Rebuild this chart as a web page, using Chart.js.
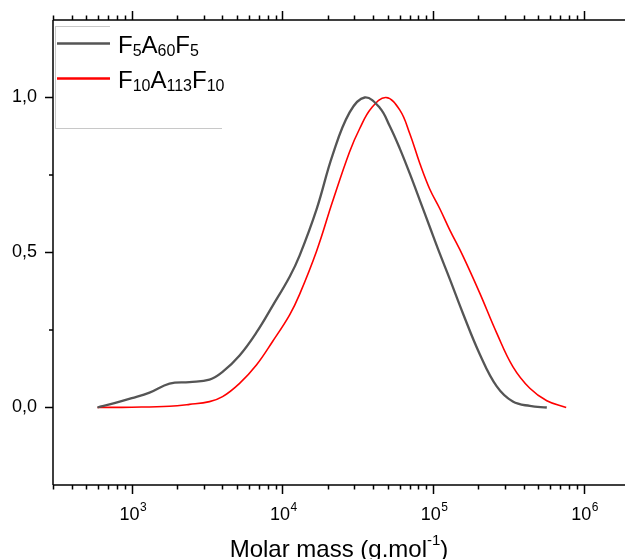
<!DOCTYPE html>
<html>
<head>
<meta charset="utf-8">
<script src="https://cdn.jsdelivr.net/npm/chart.js@4.4.1/dist/chart.umd.min.js"></script>
<style>
  body { margin: 0; background: #fff; }
  canvas { display: block; }
</style>
</head>
<body>
<canvas id="chart" width="625" height="559"></canvas>
<script>
// series 1: F5A60F5 (molar mass g/mol, normalised signal)
const massGray = [592, 767, 1000, 1312, 1780, 2415, 3281, 4006, 5196, 6743, 8606, 11170, 13000, 16870, 21550, 27930, 35160, 44240, 51550, 60070, 70000, 81600, 95000, 110700, 129000, 157500, 204200, 264700, 338500, 438900, 569000];
const valGray = [0, 0.014, 0.03, 0.048, 0.077, 0.082, 0.09, 0.115, 0.168, 0.243, 0.328, 0.422, 0.49, 0.64, 0.815, 0.952, 1.0, 0.967, 0.908, 0.836, 0.755, 0.669, 0.583, 0.497, 0.415, 0.305, 0.172, 0.068, 0.019, 0.005, 0];

// series 2: F10A113F10
const massRed = [592, 1000, 1780, 2415, 3281, 4006, 5196, 6743, 8606, 11170, 13000, 16870, 21550, 27930, 32600, 39000, 48700, 60070, 70000, 81600, 95000, 110700, 129000, 157500, 204200, 264700, 338500, 438900, 569000, 765000];
const valRed = [0, 0.001, 0.004, 0.01, 0.019, 0.035, 0.078, 0.138, 0.213, 0.299, 0.365, 0.505, 0.665, 0.825, 0.9, 0.966, 1.0, 0.96, 0.884, 0.788, 0.705, 0.642, 0.573, 0.49, 0.369, 0.24, 0.132, 0.062, 0.022, 0];

// legend names: [base, subscript, base, subscript, ...]
const nameGray = ['F', '5', 'A', '60', 'F', '5'];
const nameRed = ['F', '10', 'A', '113', 'F', '10'];

// ticks
const xTickValues = [1e3, 1e4, 1e5, 1e6];
const xTickExps = ['3', '4', '5', '6'];
const yTickValues = [0, 0.5, 1];
const yTickLabels = ['0,0', '0,5', '1,0'];
const yMinorValues = [0.25, 0.75];

const xTitle = ['Molar mass (g.mol', '-1', ')'];

const FONT = 'Arial, "Liberation Sans", sans-serif';

function toPoints(xs, ys) {
  return xs.map((x, i) => ({ x: x, y: ys[i] }));
}

// draws axis lines, tick marks, x labels, axis title and legend
const frame = {
  id: 'frame',
  afterDraw(chart) {
    const ctx = chart.ctx;
    const a = chart.chartArea;
    const xs = chart.scales.x;
    const ys = chart.scales.y;
    ctx.save();
    ctx.strokeStyle = '#000';
    ctx.lineWidth = 1.5;

    // axis lines
    ctx.beginPath();
    ctx.moveTo(a.left, a.bottom);
    ctx.lineTo(a.right, a.bottom);
    ctx.moveTo(a.left, a.top);
    ctx.lineTo(a.right, a.top);
    ctx.moveTo(a.left, a.top);
    ctx.lineTo(a.left, a.bottom);
    ctx.stroke();

    // x ticks (bottom + top)
    ctx.beginPath();
    for (let n = 2; n <= 6; n++) {
      for (let d = 1; d <= 9; d++) {
        const v = d * Math.pow(10, n);
        if (v < xs.min || v > xs.max) continue;
        const px = Math.round(xs.getPixelForValue(v)) + 0.5;
        const len = d === 1 ? 9 : 4.5;
        ctx.moveTo(px, a.bottom);
        ctx.lineTo(px, a.bottom + len);
        ctx.moveTo(px, a.top);
        ctx.lineTo(px, a.top - len);
      }
    }
    // y ticks
    yTickValues.forEach(v => {
      const py = ys.getPixelForValue(v);
      ctx.moveTo(a.left, py);
      ctx.lineTo(a.left - 8, py);
    });
    yMinorValues.forEach(v => {
      const py = ys.getPixelForValue(v);
      ctx.moveTo(a.left, py);
      ctx.lineTo(a.left - 4, py);
    });
    ctx.stroke();

    // x labels 10^n
    ctx.fillStyle = '#000';
    ctx.textBaseline = 'alphabetic';
    ctx.textAlign = 'left';
    xTickValues.forEach((v, i) => {
      const px = xs.getPixelForValue(v);
      ctx.font = '18px ' + FONT;
      const w1 = ctx.measureText('10').width;
      ctx.font = '12px ' + FONT;
      const w2 = ctx.measureText(xTickExps[i]).width;
      const x0 = px - (w1 + w2) / 2 + 1;
      ctx.font = '18px ' + FONT;
      ctx.fillText('10', x0, 520);
      ctx.font = '12px ' + FONT;
      ctx.fillText(xTickExps[i], x0 + w1 + 0.5, 511);
    });

    // axis title
    ctx.font = '24px ' + FONT;
    const t1 = ctx.measureText(xTitle[0]).width;
    const t3 = ctx.measureText(xTitle[2]).width;
    ctx.font = '15px ' + FONT;
    const t2 = ctx.measureText(xTitle[1]).width;
    let tx = (a.left + a.right) / 2 - (t1 + t2 + t3) / 2;
    ctx.font = '24px ' + FONT;
    ctx.fillText(xTitle[0], tx, 557);
    ctx.font = '15px ' + FONT;
    ctx.fillText(xTitle[1], tx + t1, 545);
    ctx.font = '24px ' + FONT;
    ctx.fillText(xTitle[2], tx + t1 + t2, 557);

    // legend frame (light grey)
    ctx.strokeStyle = '#c8c8c8';
    ctx.lineWidth = 1;
    ctx.beginPath();
    ctx.moveTo(55, 26.5); ctx.lineTo(110, 26.5);
    ctx.moveTo(55.5, 26.5); ctx.lineTo(55.5, 128.5);
    ctx.moveTo(55, 128.5); ctx.lineTo(222, 128.5);
    ctx.stroke();

    // legend entries
    const rows = [
      { ds: chart.data.datasets[0], parts: nameGray, y: 43.5, base: 52.5 },
      { ds: chart.data.datasets[1], parts: nameRed, y: 78.5, base: 87.5 }
    ];
    rows.forEach(r => {
      ctx.strokeStyle = r.ds.borderColor;
      ctx.lineWidth = 2.5;
      ctx.beginPath();
      ctx.moveTo(57, r.y);
      ctx.lineTo(110, r.y);
      ctx.stroke();
      let x = 118;
      ctx.fillStyle = '#000';
      r.parts.forEach((p, i) => {
        if (i % 2 === 0) {
          ctx.font = '24px ' + FONT;
          ctx.fillText(p, x, r.base);
        } else {
          ctx.font = '16px ' + FONT;
          ctx.fillText(p, x, r.base + 3);
        }
        x += ctx.measureText(p).width;
      });
    });
    ctx.restore();
  }
};

new Chart(document.getElementById('chart'), {
  type: 'line',
  data: {
    datasets: [
      {
        label: 'F5A60F5',
        data: toPoints(massGray, valGray),
        borderColor: '#555555',
        borderWidth: 2.3,
        tension: 0.4,
        pointRadius: 0
      },
      {
        label: 'F10A113F10',
        data: toPoints(massRed, valRed),
        borderColor: '#ff0000',
        borderWidth: 1.6,
        tension: 0.4,
        pointRadius: 0
      }
    ]
  },
  options: {
    responsive: false,
    animation: false,
    layout: { padding: { top: 20, left: 0, right: 0, bottom: 0 } },
    plugins: {
      legend: { display: false },
      tooltip: { enabled: false }
    },
    scales: {
      x: {
        type: 'logarithmic',
        min: 300,
        max: 1.88e6,
        grid: { display: false },
        border: { display: false },
        ticks: { display: false },
        afterFit(s) { s.height = 74; }
      },
      y: {
        min: -0.25,
        max: 1.25,
        grid: { display: false },
        border: { display: false },
        afterBuildTicks(s) {
          s.ticks = yTickValues.map(v => ({ value: v }));
        },
        ticks: {
          color: '#000',
          padding: 8,
          font: { family: FONT, size: 18 },
          callback: (v) => yTickLabels[yTickValues.indexOf(v)]
        },
        afterFit(s) { s.width = 53; }
      }
    }
  },
  plugins: [frame]
});
</script>
</body>
</html>
